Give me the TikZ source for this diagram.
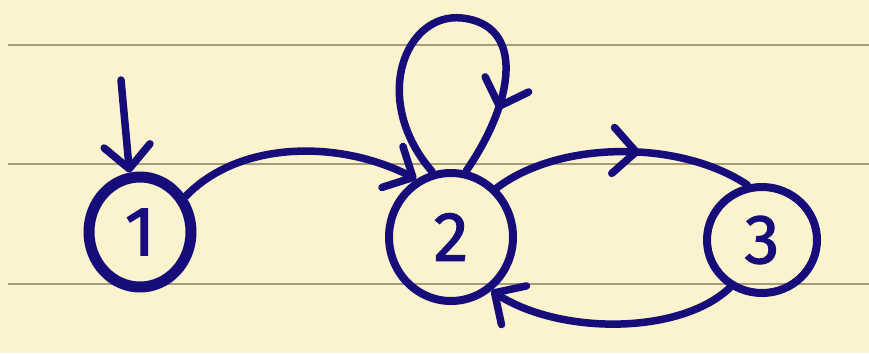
\documentclass[tikz,border=0pt]{standalone}
\usepackage{fontspec}
\setmainfont{Fira Sans}
\newfontfamily\digitfont[FakeBold=1.6]{Fira Sans}
\usetikzlibrary{shapes.geometric,arrows.meta,decorations.markings}
\definecolor{paper}{RGB}{250,243,206}
\definecolor{rule}{RGB}{165,155,118}
\definecolor{ink}{RGB}{22,12,122}
\tikzset{
  state/.style={ellipse, draw=ink, line width=8pt, inner sep=0pt, text=ink,
    font=\fontsize{70}{70}\digitfont},
  edge/.style={draw=ink, line width=7.5pt, line cap=round, line join=round},
  tip/.style={-{Straight Barb[length=23pt,width=46pt,round]}},
  midtip/.style={postaction={decorate}, decoration={markings,
    mark=at position #1 with {\arrow{Straight Barb[length=23pt,width=46pt,round]}}}},
  ruling/.style={draw=rule, line width=2pt}
}
\begin{document}
\begin{tikzpicture}[x=1pt,y=-1pt]
\useasboundingbox (0,0) rectangle (869,353);
\fill[paper] (0,0) rectangle (869,353);
\draw[ruling] (8,45) -- (869,45);
\draw[ruling] (8,164) -- (869,164);
\draw[ruling] (8,284) -- (869,284);

\node[state, line width=11pt, minimum width=102pt, minimum height=110pt] (n1) at (140,232) {1};
\node[state, minimum width=124pt, minimum height=128pt] (n2) at (451,237) {2};
\node[state, minimum width=110pt, minimum height=106pt] (n3) at (762,240) {3};

\coordinate (init) at (121,80);
\draw[edge, tip] (init) -- (n1.100);

\draw[edge, tip] (n1.38) .. controls (240,140) and (340,140) .. (n2.121);

\draw[edge, midtip=0.82] (n2.106) .. controls (370,100) and (405,12) .. (462,18)
  .. controls (525,25) and (515,100) .. (n2.77);

\draw[edge, midtip=0.57] (n2.47) .. controls (560,140) and (680,140) .. (n3.105);

\draw[edge, tip] (n3.236) .. controls (680,335) and (560,335) .. (n2.307);
\end{tikzpicture}
\end{document}
